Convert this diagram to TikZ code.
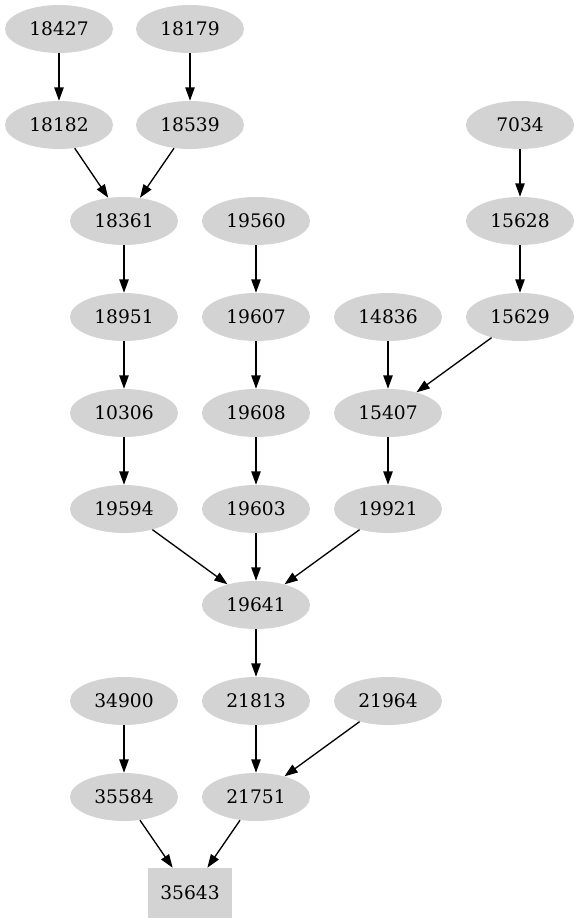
\documentclass[tikz,border=0pt]{standalone}
\usepackage{fontspec}
\setmainfont{DejaVu Serif}
\usetikzlibrary{shapes.geometric,arrows.meta}
\begin{document}
\begin{tikzpicture}[x=0.75pt,y=-0.75pt,
  nd/.style={ellipse,fill=lightgrayc,draw=none,minimum width=81pt,minimum height=36pt,inner sep=0pt,font=\fontsize{14pt}{16pt}\selectfont},
  bx/.style={rectangle,fill=lightgrayc,draw=none,minimum width=63pt,minimum height=37.5pt,inner sep=0pt,font=\fontsize{14pt}{16pt}\selectfont},
  ed/.style={draw=black,line width=1pt,-{Triangle[length=10pt,width=7pt]}}]
\definecolor{lightgrayc}{HTML}{D3D3D3}
\useasboundingbox (0,0) rectangle (579,923);
\node[nd] (n18427) at (59,29) {18427};
\node[nd] (n18179) at (190,29) {18179};
\node[nd] (n18182) at (59,125) {18182};
\node[nd] (n18539) at (190,125) {18539};
\node[nd] (n7034) at (520,125) {7034};
\node[nd] (n18361) at (124,221) {18361};
\node[nd] (n19560) at (256,221) {19560};
\node[nd] (n15628) at (520,221) {15628};
\node[nd] (n18951) at (124,317) {18951};
\node[nd] (n19607) at (256,317) {19607};
\node[nd] (n14836) at (388,317) {14836};
\node[nd] (n15629) at (520,317) {15629};
\node[nd] (n10306) at (124,413) {10306};
\node[nd] (n19608) at (256,413) {19608};
\node[nd] (n15407) at (388,413) {15407};
\node[nd] (n19594) at (124,509) {19594};
\node[nd] (n19603) at (256,509) {19603};
\node[nd] (n19921) at (388,509) {19921};
\node[nd] (n19641) at (256,605) {19641};
\node[nd] (n34900) at (124,701) {34900};
\node[nd] (n21813) at (256,701) {21813};
\node[nd] (n21964) at (388,701) {21964};
\node[nd] (n35584) at (124,797) {35584};
\node[nd] (n21751) at (256,797) {21751};
\node[bx] (n35643) at (190,893) {35643};
\draw[ed] (n18427) -- (n18182);
\draw[ed] (n18179) -- (n18539);
\draw[ed] (n18182) -- (n18361);
\draw[ed] (n18539) -- (n18361);
\draw[ed] (n18361) -- (n18951);
\draw[ed] (n18951) -- (n10306);
\draw[ed] (n10306) -- (n19594);
\draw[ed] (n19594) -- (n19641);
\draw[ed] (n19560) -- (n19607);
\draw[ed] (n19607) -- (n19608);
\draw[ed] (n19608) -- (n19603);
\draw[ed] (n19603) -- (n19641);
\draw[ed] (n7034) -- (n15628);
\draw[ed] (n15628) -- (n15629);
\draw[ed] (n15629) -- (n15407);
\draw[ed] (n14836) -- (n15407);
\draw[ed] (n15407) -- (n19921);
\draw[ed] (n19921) -- (n19641);
\draw[ed] (n19641) -- (n21813);
\draw[ed] (n21813) -- (n21751);
\draw[ed] (n21964) -- (n21751);
\draw[ed] (n34900) -- (n35584);
\draw[ed] (n35584) -- (n35643);
\draw[ed] (n21751) -- (n35643);
\end{tikzpicture}
\end{document}
